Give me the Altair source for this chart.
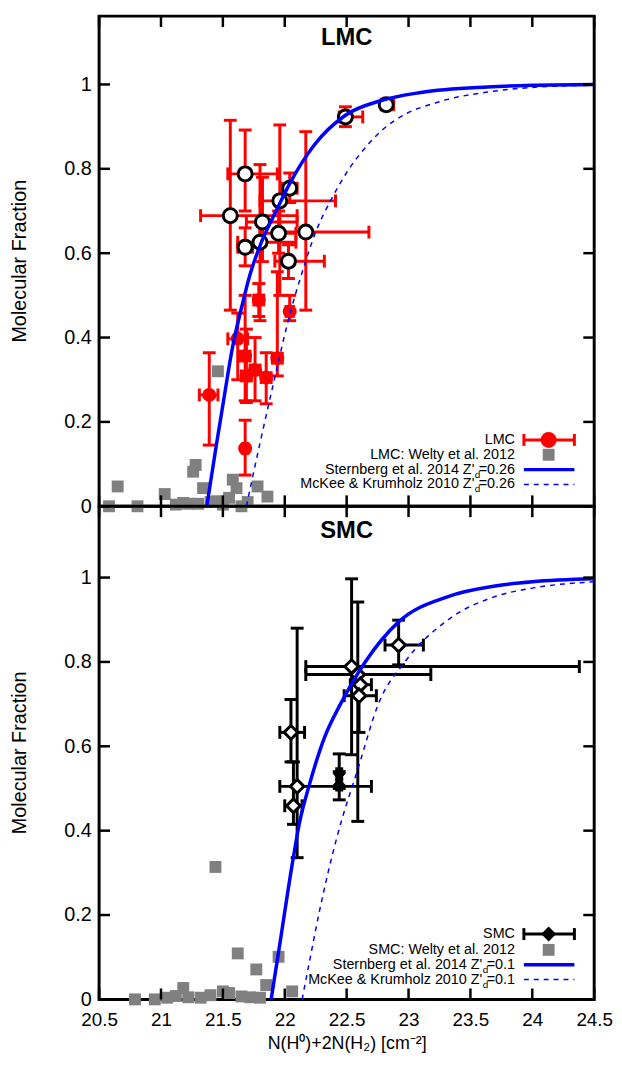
import altair as alt
import pandas as pd

FONT = "Liberation Sans"

# ---------------- data ----------------
x_ticks = [20.5, 21.0, 21.5, 22.0, 22.5, 23.0, 23.5, 24.0, 24.5]
y_ticks = [0.0, 0.2, 0.4, 0.6, 0.8, 1.0]

# LMC filled points (red)
lmc_x   = [21.39, 21.68, 22.04, 21.79, 21.62, 21.68, 21.76, 21.94, 21.85, 21.69]
lmc_y   = [0.264, 0.137, 0.462, 0.489, 0.397, 0.356, 0.323, 0.351, 0.305, 0.309]
lmc_xlo = [21.31, 21.66, 22.01, 21.75, 21.54, 21.64, 21.72, 21.90, 21.81, 21.65]
lmc_xhi = [21.46, 21.70, 22.07, 21.83, 21.70, 21.72, 21.80, 21.98, 21.89, 21.73]
lmc_ylo = [0.145, 0.074, 0.44, 0.45, 0.30, 0.25, 0.25, 0.309, 0.243, 0.246]
lmc_yhi = [0.364, 0.204, 0.50, 0.528, 0.458, 0.50, 0.40, 0.556, 0.364, 0.42]

# LMC open points (black rings, red error bars)
lmco_x   = [22.49, 22.82, 21.68, 21.56, 21.68, 21.80, 21.82, 21.95, 21.96, 22.04, 22.17, 22.03]
lmco_y   = [0.923, 0.952, 0.788, 0.689, 0.614, 0.626, 0.674, 0.647, 0.724, 0.754, 0.650, 0.581]
lmco_xlo = [22.44, 22.78, 21.54, 21.32, 21.62, 21.62, 21.69, 21.80, 21.80, 21.98, 21.95, 21.92]
lmco_xhi = [22.63, 22.88, 21.94, 22.10, 21.74, 22.09, 22.10, 22.09, 22.41, 22.10, 22.68, 22.32]
lmco_ylo = [0.90, 0.94, 0.70, 0.465, 0.57, 0.44, 0.58, 0.60, 0.50, 0.72, 0.465, 0.54]
lmco_yhi = [0.947, 0.965, 0.892, 0.915, 0.66, 0.81, 0.78, 0.70, 0.904, 0.79, 0.888, 0.62]

# LMC: Welty et al. 2012 (grey squares)
lmcw_x = [20.58, 20.65, 20.81, 21.03, 21.12, 21.18, 21.22, 21.26, 21.28, 21.30, 21.34,
          21.40, 21.45, 21.46, 21.50, 21.55, 21.58, 21.61, 21.65, 21.70, 21.78, 21.86]
lmcw_y = [0.0, 0.047, 0.0, 0.029, 0.004, 0.008, 0.006, 0.082, 0.098, 0.006, 0.043,
          0.010, 0.012, 0.32, 0.004, 0.020, 0.063, 0.043, 0.0, 0.010, 0.047, 0.023]

# LMC model curves
lmc_st_x = [21.37, 21.45, 21.50, 21.58, 21.65, 21.72, 21.81, 21.93, 22.04, 22.24, 22.49, 22.78, 23.10, 23.64, 24.00, 24.50]
lmc_st_y = [0.0, 0.15, 0.24, 0.38, 0.47, 0.55, 0.625, 0.70, 0.765, 0.857, 0.927, 0.962, 0.981, 0.994, 0.998, 1.0]
lmc_mk_x = [21.69, 21.80, 21.90, 22.05, 22.12, 22.25, 22.38, 22.52, 22.65, 22.78, 22.89, 23.26, 23.64, 24.00, 24.50]
lmc_mk_y = [0.0, 0.15, 0.28, 0.465, 0.535, 0.65, 0.73, 0.80, 0.85, 0.89, 0.915, 0.96, 0.982, 0.993, 0.998]

# SMC open diamonds
smco_x   = [22.54, 22.59, 22.61, 22.60, 22.92, 22.05, 22.10, 22.07]
smco_y   = [0.789, 0.770, 0.746, 0.720, 0.840, 0.633, 0.505, 0.459]
smco_xlo = [22.17, 22.17, 22.53, 22.48, 22.81, 21.96, 21.96, 22.00]
smco_xhi = [24.38, 23.18, 22.70, 22.74, 23.12, 22.16, 22.70, 22.14]
smco_ylo = [0.58, 0.422, 0.72, 0.633, 0.793, 0.563, 0.336, 0.415]
smco_yhi = [0.997, 0.942, 0.77, 0.75, 0.899, 0.711, 0.88, 0.563]

# SMC filled diamonds
smc_x   = [22.44, 22.44]
smc_y   = [0.535, 0.508]
smc_xlo = [22.42, 22.42]
smc_xhi = [22.46, 22.46]
smc_ylo = [0.50, 0.473]
smc_yhi = [0.582, 0.54]

# SMC: Welty et al. 2012
smcw_x = [20.79, 20.95, 21.05, 21.12, 21.18, 21.22, 21.32, 21.40, 21.44, 21.50, 21.55,
          21.62, 21.65, 21.72, 21.77, 21.80, 21.85, 21.95, 22.06]
smcw_y = [0.0, 0.0, 0.004, 0.008, 0.027, 0.005, 0.004, 0.010, 0.314, 0.019, 0.015,
          0.109, 0.007, 0.005, 0.071, 0.004, 0.034, 0.101, 0.019]

# SMC model curves
smc_st_x = [21.89, 21.97, 22.06, 22.12, 22.20, 22.32, 22.45, 22.65, 22.92, 23.32, 23.70, 24.00, 24.50]
smc_st_y = [0.0, 0.15, 0.32, 0.42, 0.51, 0.62, 0.70, 0.80, 0.895, 0.955, 0.98, 0.99, 0.997]
smc_mk_x = [22.14, 22.20, 22.276, 22.42, 22.60, 22.756, 22.97, 23.32, 23.70, 24.00, 24.50]
smc_mk_y = [0.0, 0.09, 0.203, 0.383, 0.555, 0.70, 0.80, 0.90, 0.955, 0.975, 0.99]

# ---------------- styling ----------------
W = 500
H_TOP = 495
H_BOT = 498
YMAX_TOP = H_TOP / 426.0
YMAX_BOT = H_BOT / 426.0
RED = "#ff0000"
BLUE = "#0000ff"
GREY = "#808080"
XTITLE = "N(H\u2070)+2N(H\u2082) [cm\u207b\u00b2]"
AX_FS = 20

xs = alt.Scale(domain=[20.5, 24.5], nice=False, zero=False)


def make_axes(bottom, h):
    if bottom:
        xa = alt.Axis(values=x_ticks, format="~g", ticks=False, domain=False, grid=False,
                      labelFontSize=19, labelPadding=11, labelFont=FONT, labelColor="black",
                      labelOverlap=False, labelBound=False, labelFlush=False,
                      title=XTITLE, titleFont=FONT, titleFontSize=18, titleFontWeight="normal",
                      titlePadding=6, titleColor="black")
    else:
        xa = alt.Axis(values=x_ticks, labels=False, ticks=False, domain=False, grid=False, title=None)
    ya = alt.Axis(values=y_ticks, format="~g", ticks=False, domain=False, grid=False,
                  labelFontSize=AX_FS, labelPadding=8, labelFont=FONT, labelColor="black",
                  title=None)
    return xa, ya


def errbar_layers(df, color, xa, ya, ys):
    X = lambda f: alt.X(f, type="quantitative", scale=xs, axis=xa)
    Y = lambda f: alt.Y(f, type="quantitative", scale=ys, axis=ya)
    base = alt.Chart(df)
    v = base.mark_rule(color=color, strokeWidth=3).encode(x=X("x"), y=Y("ylo"), y2="yhi")
    hz = base.mark_rule(color=color, strokeWidth=3).encode(x=X("xlo"), x2="xhi", y=Y("y"))
    c1 = base.mark_tick(color=color, orient="horizontal", size=13, thickness=3, opacity=1).encode(x=X("x"), y=Y("ylo"))
    c2 = base.mark_tick(color=color, orient="horizontal", size=13, thickness=3, opacity=1).encode(x=X("x"), y=Y("yhi"))
    c3 = base.mark_tick(color=color, orient="vertical", size=13, thickness=3, opacity=1).encode(x=X("xlo"), y=Y("y"))
    c4 = base.mark_tick(color=color, orient="vertical", size=13, thickness=3, opacity=1).encode(x=X("xhi"), y=Y("y"))
    return [v, hz, c1, c2, c3, c4]


def frame_ticks(h, xa, ya, ys):
    X = lambda f: alt.X(f, type="quantitative", scale=xs, axis=xa)
    Y = lambda f: alt.Y(f, type="quantitative", scale=ys, axis=ya)
    xt = alt.Chart(pd.DataFrame({"v": x_ticks}))
    yt = alt.Chart(pd.DataFrame({"v": y_ticks}))
    L = 11
    return [
        xt.mark_rule(color="black", strokeWidth=2.5).encode(x=X("v"), y=alt.value(h), y2=alt.value(h - L)),
        xt.mark_rule(color="black", strokeWidth=2.5).encode(x=X("v"), y=alt.value(0), y2=alt.value(L)),
        yt.mark_rule(color="black", strokeWidth=2.5).encode(y=Y("v"), x=alt.value(0), x2=alt.value(L)),
        yt.mark_rule(color="black", strokeWidth=2.5).encode(y=Y("v"), x=alt.value(W), x2=alt.value(W - L)),
    ]


def ytitle_layer(h):
    return alt.Chart(pd.DataFrame({"a": [0]})).mark_text(
        text="Molecular Fraction", angle=270, align="center", baseline="middle",
        font=FONT, fontSize=AX_FS, color="black"
    ).encode(x=alt.value(-80), y=alt.value(h / 2))


def legend_layers(rows_y, label1, label2, zval, ecolor, shape):
    one = alt.Chart(pd.DataFrame({"a": [0]}))
    tx = 420
    s0, s1, sc = 429, 480, 454
    fs = 14.5
    out = []
    txt = lambda t, x, y, align="right", size=fs: one.mark_text(
        text=t, align=align, baseline="middle", font=FONT, fontSize=size, color="black"
    ).encode(x=alt.value(x), y=alt.value(y))
    out.append(txt(label1, tx, rows_y[0]))
    out.append(txt(label2, tx, rows_y[1]))
    zw = {"0.26": 35, "0.1": 27}[zval]
    for ry, name in [(rows_y[2], "Sternberg et al. 2014 Z'"), (rows_y[3], "McKee & Krumholz 2010 Z'")]:
        out.append(txt("=" + zval, tx, ry))
        out.append(txt("d", tx - zw, ry + 5, align="right", size=10))
        out.append(txt(name, tx - zw - 6, ry))
    y0 = rows_y[0]
    out.append(one.mark_rule(color=ecolor, strokeWidth=3).encode(x=alt.value(s0), x2=alt.value(s1), y=alt.value(y0)))
    out.append(one.mark_rule(color=ecolor, strokeWidth=3).encode(x=alt.value(s0), y=alt.value(y0 - 6), y2=alt.value(y0 + 6)))
    out.append(one.mark_rule(color=ecolor, strokeWidth=3).encode(x=alt.value(s1), y=alt.value(y0 - 6), y2=alt.value(y0 + 6)))
    out.append(one.mark_point(shape=shape, filled=True, fill=ecolor, stroke=ecolor,
                              size=200 if shape == "circle" else 150,
                              opacity=1).encode(x=alt.value(sc), y=alt.value(y0)))
    out.append(one.mark_square(color=GREY, size=144, opacity=1).encode(x=alt.value(sc), y=alt.value(rows_y[1])))
    out.append(one.mark_rule(color=BLUE, strokeWidth=3.5).encode(x=alt.value(s0), x2=alt.value(s1), y=alt.value(rows_y[2])))
    out.append(one.mark_rule(color=BLUE, strokeWidth=1.5, strokeDash=[5, 5]).encode(
        x=alt.value(s0), x2=alt.value(s1), y=alt.value(rows_y[3])))
    return out


def curve_layers(sx, sy, mx, my, xa, ya, ys):
    X = alt.X("x", type="quantitative", scale=xs, axis=xa)
    Y = alt.Y("y", type="quantitative", scale=ys, axis=ya)
    solid = alt.Chart(pd.DataFrame({"x": sx, "y": sy})).mark_line(
        color=BLUE, strokeWidth=3.5, interpolate="monotone").encode(x=X, y=Y)
    dash = alt.Chart(pd.DataFrame({"x": mx, "y": my})).mark_line(
        color=BLUE, strokeWidth=1.5, strokeDash=[5, 5], interpolate="monotone").encode(x=X, y=Y)
    return [solid, dash]


# ---------------- top panel: LMC ----------------
xa, ya = make_axes(False, H_TOP)
ys_top = alt.Scale(domain=[0, YMAX_TOP], nice=False, zero=False)
Xf = alt.X("x", type="quantitative", scale=xs, axis=xa)
Yf = alt.Y("y", type="quantitative", scale=ys_top, axis=ya)

lmcw = alt.Chart(pd.DataFrame({"x": lmcw_x, "y": lmcw_y})).mark_square(
    color=GREY, size=144, opacity=1).encode(x=Xf, y=Yf)
lmc_df = pd.DataFrame({"x": lmc_x, "y": lmc_y, "xlo": lmc_xlo, "xhi": lmc_xhi, "ylo": lmc_ylo, "yhi": lmc_yhi})
lmco_df = pd.DataFrame({"x": lmco_x, "y": lmco_y, "xlo": lmco_xlo, "xhi": lmco_xhi, "ylo": lmco_ylo, "yhi": lmco_yhi})
lmc_pts = alt.Chart(lmc_df).mark_circle(color=RED, size=200, opacity=1).encode(x=Xf, y=Yf)
lmco_pts = alt.Chart(lmco_df).mark_point(shape="circle", filled=True, fill="white", stroke="black",
                                          strokeWidth=3, size=200, opacity=1).encode(x=Xf, y=Yf)
lmc_title = alt.Chart(pd.DataFrame({"a": [0]})).mark_text(
    text="LMC", font=FONT, fontSize=24, fontWeight="bold", color="black", align="center", baseline="middle"
).encode(x=alt.value(W / 2), y=alt.value(22))

top_layers = ([lmcw] + errbar_layers(lmc_df, RED, xa, ya, ys_top) + [lmc_pts]
              + errbar_layers(lmco_df, RED, xa, ya, ys_top) + [lmco_pts]
              + curve_layers(lmc_st_x, lmc_st_y, lmc_mk_x, lmc_mk_y, xa, ya, ys_top)
              + frame_ticks(H_TOP, xa, ya, ys_top)
              + legend_layers([428, 443, 458, 473], "LMC", "LMC: Welty et al. 2012", "0.26", RED, "circle")
              + [lmc_title, ytitle_layer(H_TOP)])
top = alt.layer(*top_layers).properties(width=W, height=H_TOP)

# ---------------- bottom panel: SMC ----------------
xa2, ya2 = make_axes(True, H_BOT)
ys_bot = alt.Scale(domain=[0, YMAX_BOT], nice=False, zero=False)
Xf2 = alt.X("x", type="quantitative", scale=xs, axis=xa2)
Yf2 = alt.Y("y", type="quantitative", scale=ys_bot, axis=ya2)

smcw = alt.Chart(pd.DataFrame({"x": smcw_x, "y": smcw_y})).mark_square(
    color=GREY, size=144, opacity=1).encode(x=Xf2, y=Yf2)
smco_df = pd.DataFrame({"x": smco_x, "y": smco_y, "xlo": smco_xlo, "xhi": smco_xhi, "ylo": smco_ylo, "yhi": smco_yhi})
smc_df = pd.DataFrame({"x": smc_x, "y": smc_y, "xlo": smc_xlo, "xhi": smc_xhi, "ylo": smc_ylo, "yhi": smc_yhi})
smc_pts = alt.Chart(smc_df).mark_point(shape="diamond", filled=True, fill="black", stroke="black",
                                       strokeWidth=1, size=150, opacity=1).encode(x=Xf2, y=Yf2)
smco_pts = alt.Chart(smco_df).mark_point(shape="diamond", filled=True, fill="white", stroke="black",
                                          strokeWidth=3, size=190, opacity=1).encode(x=Xf2, y=Yf2)
smc_title = alt.Chart(pd.DataFrame({"a": [0]})).mark_text(
    text="SMC", font=FONT, fontSize=24, fontWeight="bold", color="black", align="center", baseline="middle"
).encode(x=alt.value(W / 2), y=alt.value(25))

bot_layers = ([smcw] + errbar_layers(smc_df, "black", xa2, ya2, ys_bot) + [smc_pts]
              + errbar_layers(smco_df, "black", xa2, ya2, ys_bot) + [smco_pts]
              + curve_layers(smc_st_x, smc_st_y, smc_mk_x, smc_mk_y, xa2, ya2, ys_bot)
              + frame_ticks(H_BOT, xa2, ya2, ys_bot)
              + legend_layers([432, 448, 463, 478], "SMC", "SMC: Welty et al. 2012", "0.1", "black", "diamond")
              + [smc_title, ytitle_layer(H_BOT)])
bottom = alt.layer(*bot_layers).properties(width=W, height=H_BOT)

chart = alt.vconcat(top, bottom, spacing=0, bounds="flush").properties(
    padding={"left": 0, "top": 0, "right": 0, "bottom": 0},
    background="white",
).configure_view(stroke="black", strokeWidth=3, fill=None)

chart.save("out.html", embed_options={"renderer": "svg", "actions": False})
